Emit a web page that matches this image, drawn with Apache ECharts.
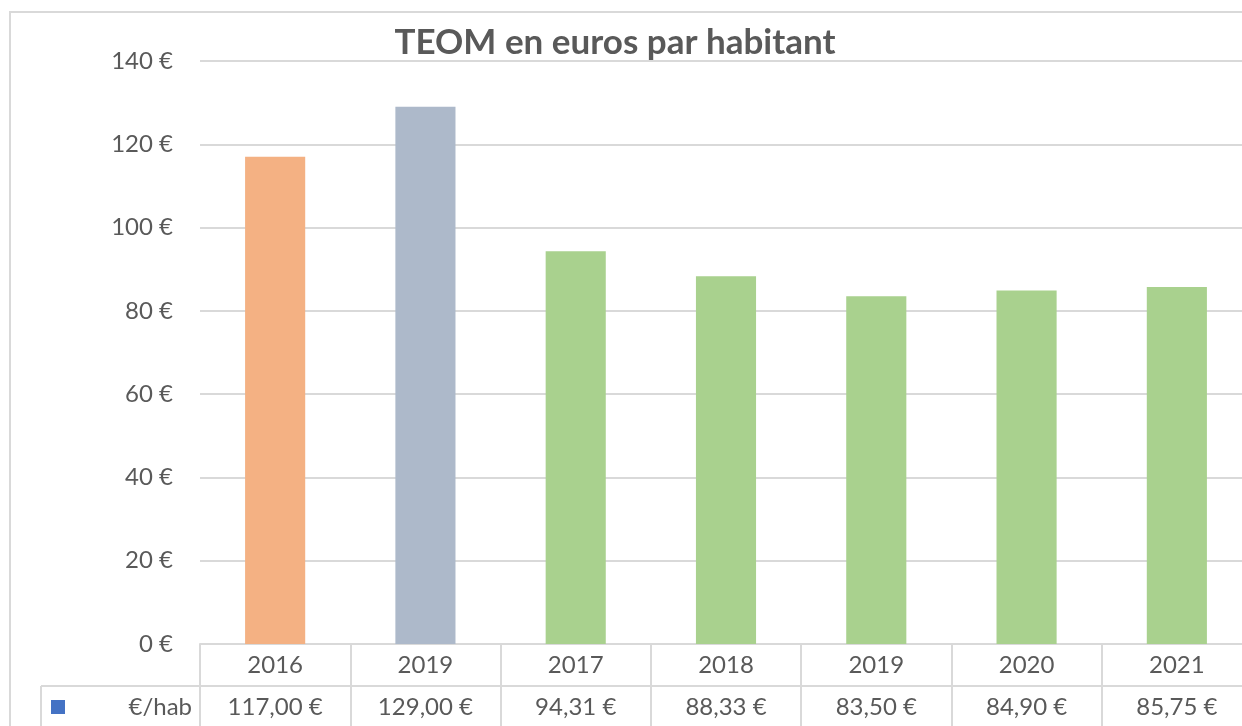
<!DOCTYPE html>
<html>
<head>
<meta charset="utf-8">
<script src="https://cdn.jsdelivr.net/npm/echarts@6/dist/echarts.min.js"></script>
<style>
  html, body { margin: 0; padding: 0; background: #fff; }
  #chart { width: 1242px; height: 726px; }
</style>
</head>
<body>
<div id="chart"></div>
<script>
const categories = ['2016', '2019', '2017', '2018', '2019', '2020', '2021'];
const values = [117.00, 129.00, 94.31, 88.33, 83.50, 84.90, 85.75];
const barColors = ['#f4b183', '#adb9ca', '#a9d18e', '#a9d18e', '#a9d18e', '#a9d18e', '#a9d18e'];
const yTicks = { min: 0, max: 140, interval: 20 };
const seriesName = '€/hab';

const textColor = '#595959';
const lineColor = '#d9d9d9';
const fontFamily = 'Lato, "Noto Sans", sans-serif';

const euro = v => v.toFixed(2).replace('.', ',') + ' €';

document.addEventListener('DOMContentLoaded', () => {
  const chart = echarts.init(document.getElementById('chart'));

  const option = {
    backgroundColor: '#fff',
    animation: false,
    textStyle: { fontFamily },
    title: {
      text: 'TEOM en euros par habitant',
      left: 610,
      textAlign: 'center',
      top: 20,
      textStyle: { fontFamily, fontSize: 35, fontWeight: 'bold', color: textColor }
    },
    // plot runs past the right edge, like the cropped original
    grid: { left: 200, width: 1052, top: 61, bottom: 82, outerBoundsMode: 'none', containLabel: false },
    xAxis: {
      type: 'category',
      data: categories,
      axisLine: { show: true, lineStyle: { color: lineColor, width: 2 } },
      axisTick: { show: true, alignWithLabel: false, length: 82, lineStyle: { color: lineColor, width: 2 } },
      axisLabel: {
        margin: 0,
        interval: 0,
        formatter: (val, idx) => `{c|${val}}\n{v|${euro(values[idx])}}`,
        rich: {
          c: { fontFamily, fontSize: 24, color: textColor, lineHeight: 42 },
          v: { fontFamily, fontSize: 24, color: textColor, lineHeight: 42 }
        }
      }
    },
    yAxis: {
      type: 'value',
      min: yTicks.min,
      max: yTicks.max,
      interval: yTicks.interval,
      axisLine: { show: false },
      axisTick: { show: false },
      axisLabel: { margin: 27, fontFamily, fontSize: 24, color: textColor, formatter: '{value} €' },
      splitLine: { lineStyle: { color: lineColor, width: 2 } }
    },
    series: [{
      name: seriesName,
      type: 'bar',
      barWidth: '40%',
      data: values.map((v, i) => ({ value: v, itemStyle: { color: barColors[i] } }))
    }],
    graphic: [
      // chart frame
      { type: 'rect', silent: true, shape: { x: 10, y: 12, width: 1300, height: 800 },
        style: { fill: null, stroke: lineColor, lineWidth: 2 } },
      // data table: separator between rows and legend cell border
      { type: 'line', silent: true, shape: { x1: 41, y1: 686, x2: 1242, y2: 686 },
        style: { stroke: lineColor, lineWidth: 2 } },
      { type: 'line', silent: true, shape: { x1: 41, y1: 686, x2: 41, y2: 726 },
        style: { stroke: lineColor, lineWidth: 2 } },
      // legend key
      { type: 'rect', silent: true, shape: { x: 51, y: 700, width: 14, height: 14 },
        style: { fill: '#4472c4' } },
      { type: 'text', silent: true, x: 192, y: 707,
        style: { text: seriesName, fontFamily, fontSize: 24, fill: textColor, align: 'right', verticalAlign: 'middle' } }
    ]
  };

  chart.setOption(option);
});
</script>
</body>
</html>
